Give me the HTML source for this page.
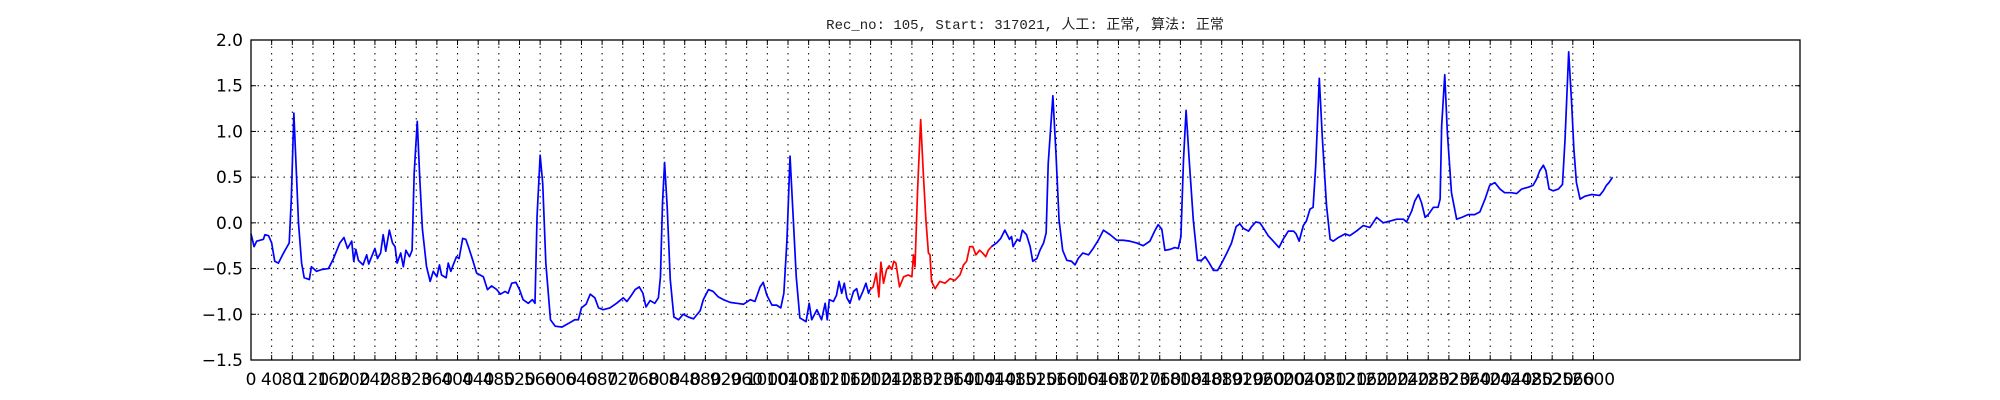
<!DOCTYPE html>
<html><head><meta charset="utf-8">
<style>
html,body{margin:0;padding:0;background:#fff;}
svg{display:block;}
text{font-family:"DejaVu Sans","Liberation Sans",sans-serif;}
</style></head>
<body>
<svg id="chart" width="2000" height="400" xmlns="http://www.w3.org/2000/svg">
<rect x="0" y="0" width="2000" height="400" fill="#fff"/>
<text x="1025" y="29" text-anchor="middle" font-size="14" fill="#222" style="font-family:'Liberation Mono','WenQuanYi Zen Hei',monospace">Rec_no: 105, Start: 317021, 人工: 正常, 算法: 正常</text>
<g id="grid"></g>
<g id="series"></g>
<rect x="251" y="40" width="1549" height="320" fill="none" stroke="#000" stroke-width="1.3"/>
<g id="ticks"></g>
</svg>
<script>
const samples = [0,6,11,24,27,34,40,46,53,63,70,74,78,83,86,92,98,103,113,117,127,137,150,159,172,180,187,195,199,203,208,217,224,228,240,245,251,256,261,268,274,279,283,290,295,300,307,312,316,322,327,332,340,347,353,360,365,369,378,382,387,393,398,403,410,416,421,429,437,450,458,466,476,483,492,498,505,513,520,527,537,545,550,554,560,565,571,580,589,602,615,627,634,640,649,657,666,673,682,695,708,721,728,737,744,752,759,765,773,782,789,793,797,801,806,812,819,828,837,847,857,870,876,886,895,905,915,928,941,954,967,976,986,992,999,1009,1018,1026,1032,1038,1044,1049,1056,1063,1075,1081,1086,1096,1105,1112,1116,1120,1128,1134,1139,1144,1149,1154,1160,1167,1173,1178,1185,1191,1196,1199,1205,1211,1216,1220,1225,1231,1236,1241,1245,1249,1256,1264,1273,1280,1283,1286,1291,1297,1302,1307,1312,1315,1318,1325,1334,1344,1354,1363,1373,1380,1386,1392,1398,1404,1411,1417,1423,1428,1434,1444,1452,1460,1469,1473,1476,1484,1489,1494,1502,1509,1514,1522,1528,1535,1540,1544,1553,1559,1565,1572,1580,1589,1596,1602,1611,1622,1631,1641,1651,1664,1677,1689,1702,1715,1728,1741,1751,1757,1764,1770,1780,1789,1796,1801,1806,1811,1817,1825,1833,1841,1848,1856,1864,1872,1880,1890,1899,1908,1915,1922,1932,1938,1946,1954,1960,1970,1983,1991,1999,2009,2019,2024,2030,2038,2044,2051,2057,2062,2069,2075,2083,2090,2096,2106,2119,2128,2141,2154,2167,2180,2193,2206,2219,2232,2238,2248,2254,2261,2267,2274,2280,2290,2299,2303,2306,2312,2317,2325,2335,2345,2357,2370,2380,2390,2399,2409,2419,2428,2441,2451,2461,2474,2483,2490,2496,2503,2508,2514,2522,2532,2540,2545,2552,2558,2562,2567,2574,2583,2596,2612,2619,2625,2630,2637];
const values = [-0.12,-0.26,-0.2,-0.18,-0.13,-0.14,-0.22,-0.42,-0.44,-0.33,-0.26,-0.22,0.25,1.2,0.8,0.0,-0.44,-0.6,-0.62,-0.48,-0.53,-0.51,-0.5,-0.4,-0.22,-0.16,-0.28,-0.2,-0.42,-0.29,-0.41,-0.46,-0.35,-0.45,-0.28,-0.39,-0.33,-0.13,-0.31,-0.08,-0.22,-0.26,-0.44,-0.33,-0.48,-0.3,-0.37,-0.3,0.54,1.11,0.47,-0.07,-0.48,-0.64,-0.53,-0.59,-0.46,-0.57,-0.6,-0.44,-0.53,-0.44,-0.37,-0.39,-0.17,-0.18,-0.26,-0.4,-0.55,-0.59,-0.73,-0.69,-0.73,-0.78,-0.75,-0.77,-0.66,-0.65,-0.73,-0.84,-0.88,-0.84,-0.88,0.07,0.74,0.43,-0.44,-1.06,-1.13,-1.14,-1.1,-1.06,-1.06,-0.93,-0.89,-0.78,-0.82,-0.93,-0.95,-0.93,-0.88,-0.82,-0.86,-0.79,-0.73,-0.7,-0.77,-0.92,-0.85,-0.88,-0.82,-0.59,0.22,0.66,0.18,-0.62,-1.03,-1.06,-1.0,-1.03,-1.05,-0.96,-0.84,-0.73,-0.75,-0.81,-0.84,-0.87,-0.88,-0.89,-0.84,-0.86,-0.7,-0.65,-0.79,-0.9,-0.9,-0.93,-0.77,-0.19,0.73,0.18,-0.59,-1.04,-1.08,-0.88,-1.06,-0.95,-1.06,-0.88,-1.06,-0.84,-0.86,-0.79,-0.64,-0.77,-0.66,-0.82,-0.88,-0.75,-0.72,-0.84,-0.75,-0.66,-0.77,-0.73,-0.7,-0.55,-0.81,-0.43,-0.66,-0.51,-0.47,-0.51,-0.42,-0.44,-0.7,-0.59,-0.57,-0.59,-0.35,-0.48,0.36,1.13,0.55,0.04,-0.33,-0.35,-0.64,-0.72,-0.64,-0.66,-0.61,-0.63,-0.57,-0.46,-0.42,-0.26,-0.26,-0.35,-0.3,-0.33,-0.37,-0.3,-0.26,-0.22,-0.17,-0.08,-0.18,-0.15,-0.26,-0.18,-0.2,-0.08,-0.13,-0.26,-0.42,-0.39,-0.3,-0.22,-0.11,0.65,1.39,0.76,0.03,-0.3,-0.41,-0.42,-0.46,-0.39,-0.33,-0.35,-0.28,-0.19,-0.08,-0.13,-0.19,-0.19,-0.2,-0.22,-0.25,-0.2,-0.08,-0.02,-0.07,-0.3,-0.29,-0.27,-0.28,-0.15,0.69,1.23,0.69,0.03,-0.41,-0.41,-0.37,-0.44,-0.52,-0.52,-0.44,-0.33,-0.22,-0.04,-0.01,-0.06,-0.09,-0.04,0.01,0.0,-0.05,-0.14,-0.22,-0.27,-0.18,-0.09,-0.09,-0.12,-0.2,-0.03,0.02,0.15,0.17,0.62,1.58,0.92,0.19,-0.18,-0.2,-0.16,-0.12,-0.14,-0.09,-0.03,-0.05,0.06,0.0,0.02,0.04,0.04,0.01,0.13,0.24,0.31,0.22,0.06,0.09,0.17,0.17,0.26,1.06,1.62,0.99,0.33,0.04,0.06,0.09,0.09,0.12,0.26,0.41,0.44,0.37,0.33,0.33,0.32,0.37,0.39,0.41,0.48,0.57,0.63,0.57,0.37,0.35,0.37,0.42,0.92,1.87,1.28,0.81,0.44,0.26,0.29,0.31,0.3,0.35,0.41,0.44,0.5];
const redRange = [1199, 1434];
const xTickValues = []; for (let t = 0; t <= 2600; t += 40) xTickValues.push(t);
const yTickValues = [2.0,1.5,1.0,0.5,0.0,-0.5,-1.0,-1.5];
const yTickLabels = ["2.0","1.5","1.0","0.5","0.0","\u22120.5","\u22121.0","\u22121.5"];

const X0=251, X1=1800, Y0=40, Y1=360, XMAX=3000, YMIN=-1.5, YMAX=2.0;
function xs(s){return X0 + s*(X1-X0)/XMAX;}
function ys(v){return Y1 - (v-YMIN)*(Y1-Y0)/(YMAX-YMIN);}
const NS="http://www.w3.org/2000/svg";
function mk(tag, attrs, parent){const e=document.createElementNS(NS,tag);for(const k in attrs)e.setAttribute(k,attrs[k]);parent.appendChild(e);return e;}
const grid=document.getElementById('grid'), ticks=document.getElementById('ticks'), series=document.getElementById('series');

xTickValues.forEach((t,i)=>{
  const x=xs(t);
  const g=mk('line',{x1:x,y1:Y0,x2:x,y2:Y1,stroke:'#000','stroke-width':1,'stroke-dasharray':'1.5,5'},grid);
  
  
  const tb=mk('line',{x1:x,y1:Y1,x2:x,y2:Y1-5,stroke:'#000','stroke-width':1},ticks);
  
  
  const tt=mk('line',{x1:x,y1:Y0,x2:x,y2:Y0+5,stroke:'#000','stroke-width':1},ticks);
  
  
  const lb=mk('text',{x:x,y:385,'text-anchor':'middle','font-size':17,fill:'#000'},ticks);
  lb.textContent=String(t);
  
  
});
yTickValues.forEach((v,i)=>{
  const y=ys(v);
  if(i>0 && i<yTickValues.length-1){
    const g=mk('line',{x1:X0,y1:y,x2:X1,y2:y,stroke:'#000','stroke-width':1,'stroke-dasharray':'1.5,5'},grid);
    
    
  }
  const tl=mk('line',{x1:X0,y1:y,x2:X0+5,y2:y,stroke:'#000','stroke-width':1},ticks);
  
  
  const tr=mk('line',{x1:X1,y1:y,x2:X1-5,y2:y,stroke:'#000','stroke-width':1},ticks);
  
  
  const lb=mk('text',{x:243,y:y+6,'text-anchor':'end','font-size':17,fill:'#000'},ticks);
  lb.textContent=yTickLabels[i];
  
  
});

function pathFor(filter){
  let d='';let started=false;
  for(let i=0;i<samples.length;i++){
    if(!filter(samples[i])){started=false;continue;}
    d+=(started?'L':'M')+xs(samples[i]).toFixed(2)+','+ys(values[i]).toFixed(2);
    started=true;
  }
  return d;
}
const blue1=mk('path',{d:pathFor(s=>s<=redRange[0]),fill:'none',stroke:'#0000ff','stroke-width':1.7,'stroke-linejoin':'round'},series);


const red=mk('path',{d:pathFor(s=>s>=redRange[0]&&s<=redRange[1]),fill:'none',stroke:'#ff0000','stroke-width':1.7,'stroke-linejoin':'round'},series);


const blue2=mk('path',{d:pathFor(s=>s>=redRange[1]),fill:'none',stroke:'#0000ff','stroke-width':1.7,'stroke-linejoin':'round'},series);


</script>
</body></html>
